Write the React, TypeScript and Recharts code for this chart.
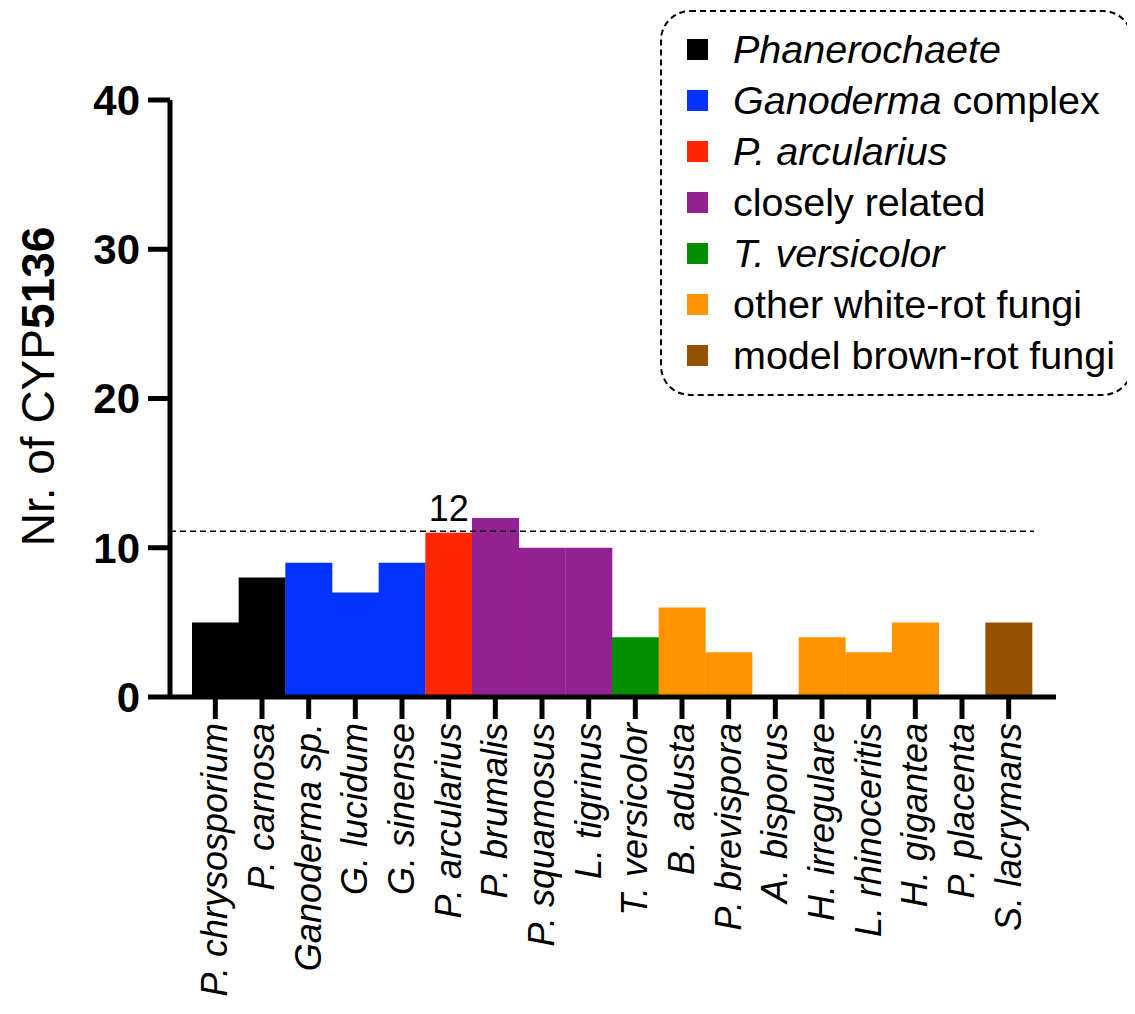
import { BarChart, Bar, XAxis, YAxis, Cell, ReferenceLine, LabelList } from 'recharts'

const species = [
  'P. chrysosporium', 'P. carnosa', 'Ganoderma sp.', 'G. lucidum', 'G. sinense', 'P. arcularius',
  'P. brumalis', 'P. squamosus', 'L. tigrinus', 'T. versicolor', 'B. adusta', 'P. brevispora',
  'A. bisporus', 'H. irregulare', 'L. rhinoceritis', 'H. gigantea', 'P. placenta', 'S. lacrymans',
]
const counts = [5, 8, 9, 7, 9, 11, 12, 10, 10, 4, 6, 3, 0, 4, 3, 5, 0, 5]
const groupOf = [0, 0, 1, 1, 1, 2, 3, 3, 3, 4, 5, 5, 5, 5, 5, 5, 6, 6]
const barLabels = ['', '', '', '', '', '12', '', '', '', '', '', '', '', '', '', '', '', '']

const groupColors = ['#000000', '#0433FF', '#FF2600', '#942192', '#008F00', '#FF9300', '#945200']
const groupItalic = ['Phanerochaete', 'Ganoderma', 'P. arcularius', '', 'T. versicolor', '', '']
const groupPlain = ['', ' complex', '', 'closely related', '', 'other white-rot fungi', 'model brown-rot fungi']

const yTicks = [0, 10, 20, 30, 40]
const threshold = 11.1

const font = '"Liberation Sans", Arial, Helvetica, sans-serif'

const data = species.map((name, i) => ({ name, count: counts[i], label: barLabels[i] }))

function SpeciesTick({ x, y, payload }: any) {
  return (
    <g transform={`translate(${x + 12},${y + 4})`}>
      <text transform="rotate(-90)" textAnchor="end" fontFamily={font} fontStyle="italic" fontSize={36} fill="#000">
        {payload.value}
      </text>
    </g>
  )
}

function YTitle({ viewBox }: any) {
  const cx = viewBox.x + 46
  const cy = viewBox.y + viewBox.height / 2 - 12
  return (
    <text transform={`translate(${cx},${cy}) rotate(-90)`} textAnchor="middle" fontFamily={font} fontSize={46} fill="#000">
      Nr. of CYP<tspan fontWeight="bold">5136</tspan>
    </text>
  )
}

function TopLabel({ x, y, width, value }: any) {
  if (!value) return null
  return (
    <text x={x + width / 2} y={y - 12} textAnchor="middle" fontFamily={font} fontSize={36} fill="#000">
      {value}
    </text>
  )
}

// dashed line stops at the end of the last bar, not at the end of the axis
function ThresholdLine({ x1, x2, y1, y2 }: any) {
  return <line x1={x1} x2={x2 - 22} y1={y1} y2={y2} stroke="#000" strokeWidth={1.5} strokeDasharray="6 4" />
}

function GroupLegend() {
  return (
    <div
      style={{
        position: 'absolute', left: 652, top: 2, width: 469, height: 382,
        border: '2.5px dashed #000', borderRadius: 30, fontFamily: font, fontSize: 39.5,
      }}
    >
      {groupColors.map((c, i) => (
        <div key={i} style={{ position: 'absolute', left: 25, top: 12 + i * 51, height: 51, display: 'flex', alignItems: 'center', whiteSpace: 'nowrap' }}>
          <span style={{ display: 'inline-block', width: 21, height: 21, background: c, marginRight: 25 }} />
          {groupItalic[i] && <i>{groupItalic[i]}</i>}
          {groupPlain[i] && <span style={{ whiteSpace: 'pre' }}>{groupPlain[i]}</span>}
        </div>
      ))}
    </div>
  )
}

export default function App() {
  return (
    <div style={{ position: 'relative', width: 1127, height: 1006 }}>
      <BarChart width={1127} height={1006} data={data} barCategoryGap={0} margin={{ top: 92, right: 79, bottom: 0, left: 0 }}>
        <XAxis
          dataKey="name"
          interval={0}
          height={317}
          padding={{ left: 22, right: 24 }}
          tick={<SpeciesTick />}
          tickSize={22}
          tickMargin={0}
          axisLine={{ stroke: '#000', strokeWidth: 5 }}
          tickLine={{ stroke: '#000', strokeWidth: 5 }}
        />
        <YAxis
          width={162}
          domain={[0, 40]}
          ticks={yTicks}
          tickSize={22}
          tickMargin={8}
          axisLine={{ stroke: '#000', strokeWidth: 5 }}
          tickLine={{ stroke: '#000', strokeWidth: 5 }}
          tick={{ fontFamily: font, fontSize: 42, fontWeight: 'bold', fill: '#000' }}
          label={<YTitle />}
        />
        <ReferenceLine y={threshold} shape={<ThresholdLine />} />
        <Bar dataKey="count" isAnimationActive={false}>
          {data.map((d, i) => (
            <Cell key={d.name} fill={groupColors[groupOf[i]]} />
          ))}
          <LabelList dataKey="label" content={<TopLabel />} />
        </Bar>
      </BarChart>
      <GroupLegend />
    </div>
  )
}
